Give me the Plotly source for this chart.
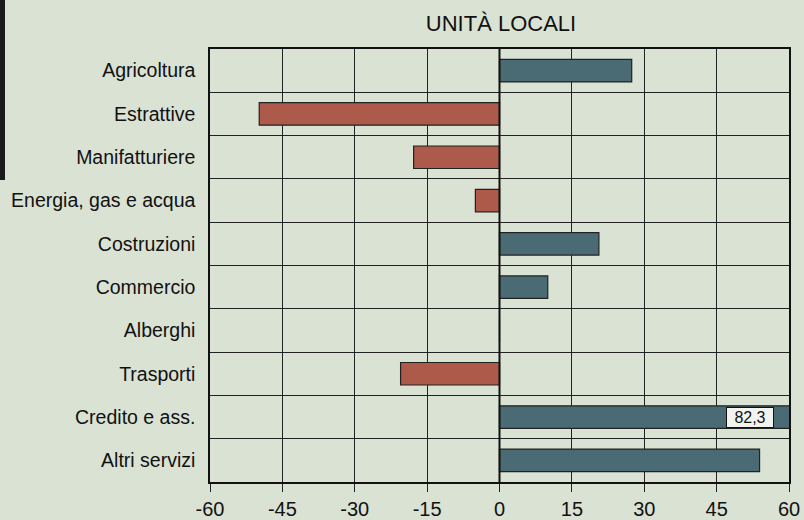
import plotly.graph_objects as go

categories = ["Agricoltura", "Estrattive", "Manifatturiere", "Energia, gas e acqua",
              "Costruzioni", "Commercio", "Alberghi", "Trasporti",
              "Credito e ass.", "Altri servizi"]
values = [27.4, -49.8, -17.8, -5.0, 20.6, 10.0, 0.0, -20.5, 82.3, 53.9]
x_ticks = [-60, -45, -30, -15, 0, 15, 30, 45, 60]
title_text = "UNITÀ LOCALI"
label_text = "82,3"

BLUE = "#4b6b74"
RED = "#ad5a4b"
BG = "#dae2d4"
colors = [BLUE if v >= 0 else RED for v in values]

fig = go.Figure()
fig.add_trace(go.Bar(
    x=values, y=categories, orientation="h",
    marker=dict(color=colors, line=dict(color="#222222", width=1.2)),
    width=0.52, showlegend=False, hoverinfo="skip",
))

fig.add_annotation(x=52.0, y="Credito e ass.", text=label_text, showarrow=False,
                   bgcolor="#f2f3ee", bordercolor="#111111", borderwidth=1,
                   font=dict(family="Liberation Sans, Arial", size=16, color="#111"),
                   width=44, borderpad=1)

# scan edge dark strip at left
fig.add_shape(type="rect", xref="paper", yref="paper",
              x0=-210/579, x1=-205/579, y0=(482-180)/433, y1=(482+0)/433 + 0.1,
              fillcolor="#1a1a1a", line=dict(width=0), layer="above")

# zero line
fig.add_vline(x=0, line=dict(color="#111111", width=2))

fig.update_layout(
    width=804, height=520,
    margin=dict(l=210, r=15, t=49, b=38, autoexpand=False),
    paper_bgcolor=BG, plot_bgcolor=BG,
    title=dict(text=title_text, x=(501)/804, xanchor="center", y=1 - 23/520, yanchor="middle",
               font=dict(family="Liberation Sans, Arial", size=22, color="#111111")),
    font=dict(family="Liberation Sans, Arial", color="#111111"),
    bargap=0.5,
)
fig.update_xaxes(range=[-60, 60], tickvals=x_ticks, ticktext=[str(t) for t in x_ticks],
                 showgrid=True, gridcolor="#222222", gridwidth=1,
                 ticks="outside", ticklen=8, tickcolor="#222222",
                 showline=True, linecolor="#111111", linewidth=1.5, mirror=True,
                 zeroline=False, tickfont=dict(size=20), ticklabelstandoff=0, automargin=False)
fig.update_yaxes(autorange="reversed", categoryorder="array", categoryarray=categories,
                 tickson="boundaries", showgrid=True, gridcolor="#222222", gridwidth=1,
                 ticks="", showline=True, linecolor="#111111", linewidth=1.5, mirror=True,
                 tickfont=dict(size=19.5), ticklabelstandoff=9, automargin=False)

fig.write_html("out.html", config={"displayModeBar": False},
               post_script="document.body.style.margin='0';")
